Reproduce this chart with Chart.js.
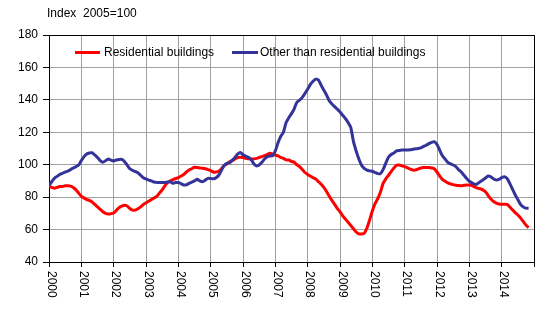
<!DOCTYPE html>
<html>
<head>
<meta charset="utf-8">
<script src="https://cdn.jsdelivr.net/npm/chart.js@4"></script>
<style>
  body { margin: 0; background: #fff; }
  canvas { display: block; }
</style>
</head>
<body>
<canvas id="chart" width="553" height="322"></canvas>
<script>
// monthly index values, Jan 2000 .. Nov 2014 (2005=100)
const years = ['2000','2001','2002','2003','2004','2005','2006','2007','2008','2009','2010','2011','2012','2013','2014'];
const seriesNames = ['Residential buildings', 'Other than residential buildings'];

const residential = [
  86.5, 86, 85.5, 86, 86.5, 86.5, 87, 87, 86.8, 86, 84.5, 82.5,
  80.5, 79.5, 78.5, 78, 77, 75.5, 74, 72.5, 71, 70, 69.6, 69.8,
  70.2, 71.8, 73.5, 74.5, 75, 74.5, 73, 72, 72, 72.8, 74, 75.5,
  76.5, 77.5, 78.5, 79.5, 80.5, 82.5, 84.5, 87, 89, 90, 90.8, 91.5,
  92, 93, 94, 95.5, 96.7, 97.5, 98.4, 98.3, 98, 97.8, 97.5, 97,
  96.4, 95.5, 95.5, 96, 97.5, 99.5, 100.5, 101.8, 102.5, 103.5, 104.4, 104.6,
  104.4, 104, 103.7, 103.5, 103.6, 103.9, 104.5, 105, 105.6, 106.3, 107, 106.6,
  106, 105.4, 104.5, 103.9, 103, 102.9, 102, 101.5, 100, 98.8, 97, 95.2,
  94, 93, 92, 91.2, 89.5, 88, 86, 83.5, 80.5, 78, 75.5, 73,
  71, 68.5, 66.5, 64.5, 62.5, 60.5, 58.5, 57.3, 57.3, 57.8, 61, 66,
  71.5, 76, 79, 83, 88.5, 91.3, 93.5, 95.8, 98, 99.7, 99.8, 99.3,
  98.8, 98, 97.3, 96.7, 96.7, 97.3, 98, 98.3, 98.3, 98.3, 98, 97.5,
  95.5, 93, 91, 89.8, 88.8, 88.2, 87.7, 87.4, 87.2, 87.1, 87.3, 87.5,
  87.5, 87.2, 86.3, 85.6, 85.2, 84.5, 83.3, 81, 78.8, 77.3, 76.3, 75.8,
  75.6, 75.6, 75.5, 74, 72.2, 70.5, 69, 67.2, 65, 62.8, 61.2
];

const other = [
  87.1, 89.5, 91.6, 92.8, 94, 94.7, 95.5, 96.1, 97, 98, 98.8, 99.8,
  102.5, 105, 106.6, 107.2, 107.4, 106, 104.5, 102.5, 101.5, 102.5, 103.5, 102.8,
  102.3, 102.9, 103.2, 103.3, 102, 99.8, 97.5, 96.5, 95.8, 95, 93.5, 92,
  91.2, 90.5, 90, 89.3, 89.1, 89, 89, 89, 89.3, 89.5, 88.5, 89,
  89, 88.3, 87.5, 87.6, 88.5, 89.2, 90, 91, 90, 89.5, 90.5, 91.6,
  91.5, 91.3, 92, 93.5, 96.5, 99.5, 100.8, 101.2, 102.8, 104.4, 106.5, 107.6,
  106.2, 105.3, 104.6, 103.2, 100.6, 99.3, 99.8, 101.5, 103.5, 105, 105.4, 105.6,
  108.5, 113.5, 117.5, 120, 126, 129, 131.5, 134.5, 138.5, 139.8, 141.5, 144,
  146.5, 149.5, 151.5, 152.8, 152.3, 149, 146, 143, 139.5, 137.5, 135.8, 134.3,
  132.5, 130.5, 128.5, 126, 123, 114.2, 108.5, 103.5, 99.7, 97.8, 96.7, 96.2,
  96, 95.2, 94.5, 94.5, 97, 101, 104.6, 106.3, 107.2, 108.5, 108.8, 109,
  109, 109.1, 109.2, 109.5, 109.8, 110, 110.4, 111.3, 112, 113, 113.8, 114.2,
  112.5, 109, 105.5, 103.5, 101.5, 100.5, 99.8, 98.8, 97, 95.5, 93.5, 91.5,
  89.8, 88.8, 88, 88.2, 89.5, 90.6, 91.8, 93, 92.5, 91.2, 90.6, 91,
  92, 92.6, 91.5, 88.5, 85, 81.5, 78.5, 75.5, 74, 73.2, 73.1
];

const colors = ['#ff0000', '#333399'];

function toPoints(arr){
    let pts = [];
    for (let i = 0; i < arr.length; i++){
        pts.push({x: i, y: arr[i]});
    }
    return pts;
}

// year labels (rotated clockwise), title and in-plot legend
const overlay = {
    id: 'overlay',
    afterDraw(chart){
        const ctx = chart.ctx;
        const xs = chart.scales.x;
        const area = chart.chartArea;
        ctx.save();
        ctx.font = '12px Arial';
        ctx.fillStyle = '#000';

        for (let i = 0; i < years.length; i++){
            let px = xs.getPixelForValue(i * 12);
            ctx.save();
            ctx.translate(px + 2, area.bottom + 9);
            ctx.rotate(Math.PI / 2);
            ctx.textAlign = 'left';
            ctx.textBaseline = 'middle';
            ctx.fillText(years[i], 0, 0);
            ctx.restore();
        }

        ctx.textAlign = 'left';
        ctx.textBaseline = 'middle';
        ctx.fillText('Index  2005=100', 47, 14);

        // legend
        const items = [[75, 100, 104], [232, 258, 260]];
        for (let i = 0; i < items.length; i++){
            ctx.strokeStyle = colors[i];
            ctx.lineWidth = 3;
            ctx.beginPath();
            ctx.moveTo(items[i][0], 52.5);
            ctx.lineTo(items[i][1], 52.5);
            ctx.stroke();
            ctx.fillText(seriesNames[i], items[i][2], 52.5);
        }
        ctx.restore();
    }
};

Chart.defaults.font.family = 'Arial, "Liberation Sans", sans-serif';
Chart.defaults.font.size = 12;
Chart.defaults.color = '#000';

const config = {
    type: 'line',
    data: {
        datasets: [{
            label: seriesNames[0],
            data: toPoints(residential),
            borderColor: colors[0],
            borderWidth: 3,
            pointRadius: 0,
            tension: 0.2,
            order: 1
        }, {
            label: seriesNames[1],
            data: toPoints(other),
            borderColor: colors[1],
            borderWidth: 3,
            pointRadius: 0,
            tension: 0.2,
            order: 0
        }]
    },
    options: {
        responsive: false,
        animation: false,
        layout: { padding: { top: 35, right: 19, left: 0, bottom: 0 } },
        plugins: {
            legend: { display: false },
            tooltip: { enabled: false }
        },
        scales: {
            x: {
                type: 'linear',
                min: 0,
                max: 180,
                ticks: { stepSize: 12, display: false },
                grid: {
                    color: (c) => (c.tick && c.tick.value === 180) ? '#000' : '#a0a0a0',
                    tickColor: '#000',
                    tickLength: 5
                },
                border: { color: '#000' },
                afterFit: (s) => { s.height = 60; }
            },
            y: {
                min: 40,
                max: 180,
                ticks: { stepSize: 20, padding: 5, font: { size: 12 } },
                grid: {
                    color: (c) => (c.tick && c.tick.value === 180) ? '#000' : '#a0a0a0',
                    tickColor: '#000',
                    tickLength: 6
                },
                border: { color: '#000' },
                afterFit: (s) => { s.width = 49; }
            }
        }
    },
    plugins: [overlay]
};

const chart = new Chart(document.getElementById('chart').getContext('2d'), config);
</script>
</body>
</html>
